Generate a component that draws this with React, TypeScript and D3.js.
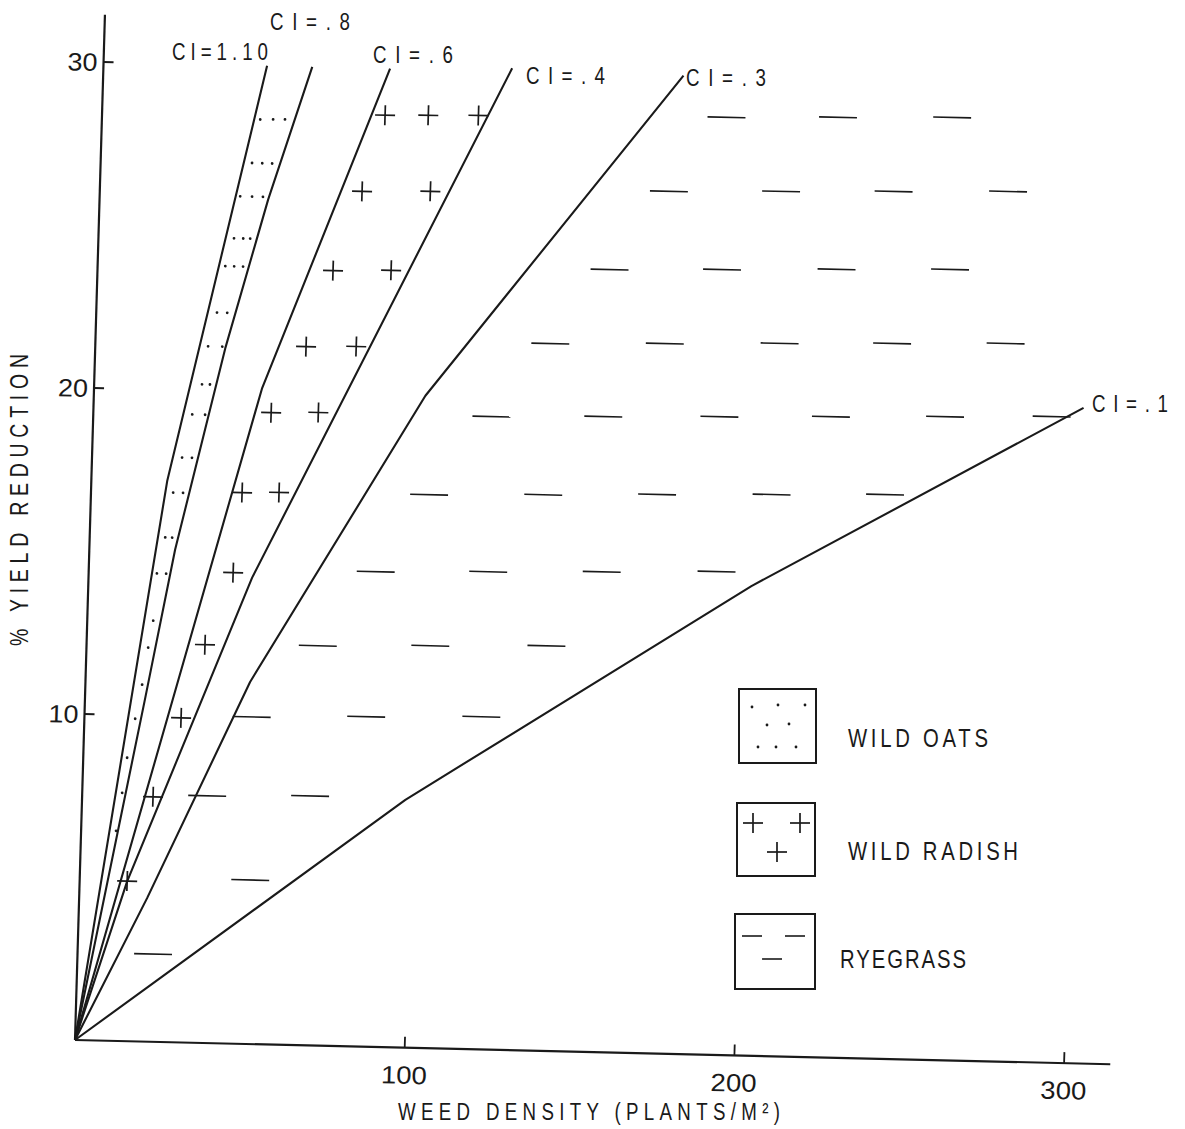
import * as d3 from 'd3'
import type { ReactNode } from 'react'

const WIDTH = 1185
const HEIGHT = 1129
const INK = '#1a1a1a'
const FONT = "'Liberation Sans Narrow', 'Liberation Sans', 'DejaVu Sans', sans-serif"
const SQUEEZE = 0.78

type Pt = [number, number]

// axes
const xTicks = [100, 200, 300]
const yTicks = [10, 20, 30]
const xMax = 314
const yMax = 31.45

// competitive index curves: [weed density, % yield reduction]
const ci110: Pt[] = [[0, 0], [23.0, 17.2], [49.6, 30.0]]
const ci08: Pt[] = [[0, 0], [18.2, 10.5], [26.0, 15.1], [39.4, 21.3], [51.1, 25.9], [63.3, 30.0]]
const ci06: Pt[] = [[0, 0], [50.9, 20.1], [86.9, 30.0]]
const ci04: Pt[] = [[0, 0], [14.4, 4.9], [49.6, 14.3], [123.9, 30.1]]
const ci03: Pt[] = [[0, 0], [20.6, 4.4], [49.9, 11.1], [100.5, 20.0], [175.9, 30.0]]
const ci01: Pt[] = [[0, 0], [98.0, 7.6], [201.0, 14.4], [300.1, 20.1]]
const curves = [ci110, ci08, ci06, ci04, ci03, ci01]
const ciLabels = ['CI=1.10', 'CI=.8', 'CI=.6', 'CI=.4', 'CI=.3', 'CI=.1']

// region fill marks
const wildOats: Pt[] = [
  [48.0, 28.35], [51.9, 28.36], [55.5, 28.37],
  [45.9, 27.01], [49.0, 27.01], [52.0, 27.01],
  [42.6, 25.98], [46.2, 25.98], [49.5, 25.98],
  [41.1, 24.69], [43.9, 24.69], [46.0, 24.69],
  [38.7, 23.83], [41.4, 23.83], [44.1, 23.83],
  [36.6, 22.4], [39.7, 22.4],
  [34.2, 21.36], [38.5, 21.36],
  [32.7, 20.19], [35.1, 20.19],
  [30.0, 19.26], [33.9, 19.26],
  [27.3, 17.93], [30.3, 17.93],
  [24.9, 16.85], [27.9, 16.85],
  [22.9, 15.47], [25.0, 15.47],
  [20.7, 14.36], [23.5, 14.36],
  [20.0, 12.91], [18.7, 12.08], [17.2, 10.94], [15.4, 9.89],
  [13.3, 8.69], [12.1, 7.61], [10.6, 6.44],
]
const wildRadish: Pt[] = [
  [85.8, 28.57], [98.9, 28.6], [114.1, 28.63],
  [79.5, 26.22], [100.2, 26.27],
  [71.4, 23.77], [89.0, 23.82],
  [63.9, 21.42], [79.1, 21.46],
  [53.9, 19.37], [68.2, 19.41],
  [45.8, 16.9], [57.0, 16.93],
  [43.8, 14.44], [35.9, 12.21], [29.3, 9.95], [21.5, 7.51], [14.4, 4.91],
]
const ryegrass: Pt[] = [
  [189.3, 28.75], [223.1, 28.83], [257.7, 28.91],
  [172.5, 26.44], [206.5, 26.52], [240.6, 26.6], [275.3, 26.68],
  [155.2, 24.0], [189.3, 24.08], [224.0, 24.17], [258.4, 24.25],
  [137.9, 21.69], [172.6, 21.77], [207.4, 21.86], [241.5, 21.94], [275.9, 22.02],
  [120.7, 19.41], [154.6, 19.49], [189.8, 19.57], [223.6, 19.65], [258.2, 19.73], [290.5, 19.81],
  [102.5, 16.97], [137.1, 17.05], [171.6, 17.14], [206.3, 17.22], [240.7, 17.3],
  [87.0, 14.57], [121.1, 14.65], [155.5, 14.73], [190.3, 14.82],
  [70.1, 12.26], [104.2, 12.34], [139.4, 12.42],
  [50.7, 10.03], [85.4, 10.12], [120.3, 10.2],
  [37.9, 7.58], [69.1, 7.65],
  [51.7, 5.03],
  [22.9, 2.69],
]
const species = ['WILD OATS', 'WILD RADISH', 'RYEGRASS']

// layout (pixels)
const labelPos = [
  { x: 172, y: 60, w: 96 },
  { x: 270, y: 30, w: 80 },
  { x: 373, y: 63, w: 80 },
  { x: 526, y: 84, w: 79 },
  { x: 686, y: 86, w: 80 },
  { x: 1092, y: 412, w: 76 },
]
const legendBoxes = [
  { x: 739, y: 689, w: 77, h: 74, tx: 848, ty: 747, tw: 140 },
  { x: 737, y: 803, w: 78, h: 73, tx: 848, ty: 860, tw: 170 },
  { x: 735, y: 914, w: 80, h: 75, tx: 840, ty: 968, tw: 126 },
]
// scanned page is slightly skewed
const PLOT_TRANSFORM = 'matrix(1, 0.0234, -0.0292, 1, 75, 1040)'

// narrow plotter-style lettering with wide spacing
function Label({
  x,
  y,
  w,
  size,
  anchor = 'start',
  rotate = 0,
  children,
}: {
  x: number
  y: number
  w: number
  size: number
  anchor?: string
  rotate?: number
  children: ReactNode
}) {
  return (
    <text
      transform={`translate(${x},${y}) rotate(${rotate}) scale(${SQUEEZE},1)`}
      textAnchor={anchor}
      fontSize={size}
      fill={INK}
      textLength={w / SQUEEZE}
      lengthAdjust="spacing"
    >
      {children}
    </text>
  )
}

function Cross({ cx, cy, r = 10 }: { cx: number; cy: number; r?: number }) {
  return (
    <g stroke={INK} strokeWidth={1.7}>
      <line x1={cx - r} x2={cx + r} y1={cy} y2={cy} />
      <line x1={cx} x2={cx} y1={cy - r} y2={cy + r} />
    </g>
  )
}

export default function App() {
  const x = d3.scaleLinear().domain([0, 300]).range([0, 989.1])
  const y = d3.scaleLinear().domain([0, 30]).range([0, -978])
  const line = d3
    .line<Pt>()
    .x((d) => x(d[0]))
    .y((d) => y(d[1]))
  const dashHalf = (x(11.5) - x(0)) / 2

  return (
    <svg
      width={WIDTH}
      height={HEIGHT}
      viewBox={`0 0 ${WIDTH} ${HEIGHT}`}
      style={{ position: 'absolute', left: 0, top: 0, background: '#fff' }}
      fontFamily={FONT}
    >
      <g transform={PLOT_TRANSFORM}>
        {/* axes */}
        <g stroke={INK} strokeWidth={2.2} fill="none">
          <path d={line([[0, 0], [xMax, 0]]) || ''} />
          <path d={line([[0, 0], [0, yMax]]) || ''} />
          {xTicks.map((t) => (
            <line key={t} x1={x(t)} x2={x(t)} y1={0} y2={-11} strokeWidth={1.8} />
          ))}
          {yTicks.map((t) => (
            <line key={t} x1={0} x2={10} y1={y(t)} y2={y(t)} strokeWidth={1.8} />
          ))}
        </g>
        {xTicks.map((t) => (
          <text key={t} x={x(t)} y={36} textAnchor="middle" fontSize={25} fill={INK} textLength={46} lengthAdjust="spacingAndGlyphs">
            {t}
          </text>
        ))}
        {yTicks.map((t) => (
          <text key={t} x={-6} y={y(t) + 9} textAnchor="end" fontSize={25} fill={INK} textLength={30} lengthAdjust="spacingAndGlyphs">
            {t}
          </text>
        ))}

        {/* CI curves */}
        <g stroke={INK} strokeWidth={2.1} fill="none" strokeLinejoin="round">
          {curves.map((c, i) => (
            <path key={ciLabels[i]} d={line(c) || ''} />
          ))}
        </g>

        {/* region marks */}
        <g fill={INK}>
          {wildOats.map((d, i) => (
            <circle key={i} cx={x(d[0])} cy={y(d[1])} r={1.4} />
          ))}
        </g>
        {wildRadish.map((d, i) => (
          <Cross key={i} cx={x(d[0])} cy={y(d[1])} />
        ))}
        <g stroke={INK} strokeWidth={1.6}>
          {ryegrass.map((d, i) => (
            <line key={i} x1={x(d[0]) - dashHalf} x2={x(d[0]) + dashHalf} y1={y(d[1])} y2={y(d[1])} />
          ))}
        </g>
      </g>

      {/* curve labels */}
      {ciLabels.map((l, i) => (
        <Label key={l} x={labelPos[i].x} y={labelPos[i].y} w={labelPos[i].w} size={24}>
          {l}
        </Label>
      ))}

      {/* axis titles */}
      <Label x={398} y={1120} w={382} size={24}>
        WEED DENSITY (PLANTS/M²)
      </Label>
      <Label x={28} y={500} w={292} size={25} anchor="middle" rotate={-90}>
        % YIELD REDUCTION
      </Label>

      {/* legend */}
      {legendBoxes.map((b, i) => (
        <g key={species[i]}>
          <rect x={b.x} y={b.y} width={b.w} height={b.h} fill="none" stroke={INK} strokeWidth={2} />
          <Label x={b.tx} y={b.ty} w={b.tw} size={26}>
            {species[i]}
          </Label>
        </g>
      ))}
      <g fill={INK}>
        {[[13, 18], [39, 16], [66, 16], [28, 36], [50, 35], [19, 58], [37, 58], [57, 58]].map(([dx, dy], i) => (
          <circle key={i} cx={legendBoxes[0].x + dx} cy={legendBoxes[0].y + dy} r={1.4} />
        ))}
      </g>
      {[[16, 20], [63, 20], [40, 49]].map(([dx, dy], i) => (
        <Cross key={i} cx={legendBoxes[1].x + dx} cy={legendBoxes[1].y + dy} />
      ))}
      <g stroke={INK} strokeWidth={1.6}>
        {[[17, 22], [60, 22], [37, 45]].map(([dx, dy], i) => (
          <line
            key={i}
            x1={legendBoxes[2].x + dx - 10}
            x2={legendBoxes[2].x + dx + 10}
            y1={legendBoxes[2].y + dy}
            y2={legendBoxes[2].y + dy}
          />
        ))}
      </g>
    </svg>
  )
}
